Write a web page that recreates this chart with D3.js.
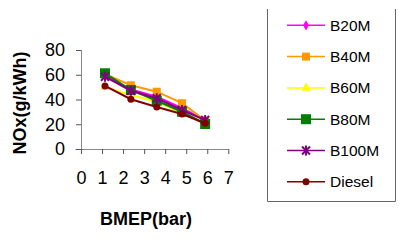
<!DOCTYPE html>
<html>
<head>
<meta charset="utf-8">
<script src="https://cdn.jsdelivr.net/npm/d3@7"></script>
<style>
  body { margin: 0; background: #fff; }
  svg { display: block; font-family: "Liberation Sans", Arial, sans-serif; }
</style>
</head>
<body>
<div id="chart"></div>
<script>
"use strict"

// BMEP (bar) at each load step
let bmep = [1.14, 2.37, 3.6, 4.8, 5.9];

let seriesNames = ["B20M", "B40M", "B60M", "B80M", "B100M", "Diesel"];
let seriesColors = ["#ff00ff", "#ff9900", "#ffff00", "#008000", "#800080", "#800000"];
let seriesMarkers = ["diamond", "square", "triangle", "bigSquare", "star", "circle"];

// NOx (g/kWh)
let b20m = [59, 48.2, 42.3, 33, 23.4];
let b40m = [60.5, 51.5, 46.3, 37, 22.9];
let b60m = [50, 43.6, 38.2, 29, 21.3];
let b80m = [61.2, 47.7, 39, 30.1, 20.2];
let b100m = [58.4, 47.1, 41, 31.5, 23.4];
let diesel = [51, 40.2, 33.9, 28.3, 20.8];
let seriesValues = [b20m, b40m, b60m, b80m, b100m, diesel];

let xTicks = [0, 1, 2, 3, 4, 5, 6, 7];
let yTicks = [0, 20, 40, 60, 80];

let svg = d3.select("#chart").append("svg")
    .attr("width", 404)
    .attr("height", 242);

let x = d3.scaleLinear().domain([0, 7]).range([81, 228.3]);
let y = d3.scaleLinear().domain([0, 80]).range([149, 50]);

// axes
let xAxis = svg.append("g")
    .attr("transform", "translate(0,149)")
    .call(d3.axisBottom(x).tickValues(xTicks).tickFormat(d3.format("d")).tickSize(5));
let yAxis = svg.append("g")
    .attr("transform", "translate(81,0)")
    .call(d3.axisLeft(y).tickValues(yTicks).tickFormat(d3.format("d")).tickSize(5));

[xAxis, yAxis].forEach(function(ax) {
    ax.select(".domain").attr("stroke", "#888").attr("stroke-width", 1);
    ax.selectAll(".tick line").attr("stroke", "#555").attr("stroke-width", 1);
    ax.selectAll(".tick text")
        .attr("fill", "#000")
        .style("font-size", "18px")
        .style("font-family", "'Liberation Sans', Arial, sans-serif");
});
xAxis.select(".domain").attr("d", "M75.5,0.5H228.8");
yAxis.select(".domain").attr("d", "M0.5,50H0.5V149");
xAxis.selectAll(".tick text").attr("dy", "0.71em").attr("y", 22);
yAxis.selectAll(".tick text").attr("x", -16);

// axis titles
svg.append("text")
    .attr("x", 146)
    .attr("y", 225)
    .attr("text-anchor", "middle")
    .style("font-size", "18px")
    .style("font-weight", "bold")
    .text("BMEP(bar)");

svg.append("text")
    .attr("transform", "translate(26,103) rotate(-90)")
    .attr("text-anchor", "middle")
    .style("font-size", "18px")
    .style("font-weight", "bold")
    .text("NOx(g/kWh)");

function drawMarker(g, type, color, cx, cy) {
    if (type === "diamond") {
        g.append("path")
            .attr("d", d3.symbol(d3.symbolDiamond, 30)())
            .attr("transform", "translate(" + cx + "," + cy + ")")
            .attr("fill", color);
    } else if (type === "square") {
        g.append("rect")
            .attr("x", cx - 4).attr("y", cy - 4)
            .attr("width", 8).attr("height", 8)
            .attr("fill", color);
    } else if (type === "bigSquare") {
        g.append("rect")
            .attr("x", cx - 5).attr("y", cy - 5)
            .attr("width", 10).attr("height", 10)
            .attr("fill", color);
    } else if (type === "triangle") {
        g.append("path")
            .attr("d", d3.symbol(d3.symbolTriangle, 40)())
            .attr("transform", "translate(" + cx + "," + cy + ")")
            .attr("fill", color);
    } else if (type === "star") {
        g.append("path")
            .attr("d", "M-4,-4L4,4M-4,4L4,-4M0,-5V5")
            .attr("transform", "translate(" + cx + "," + cy + ")")
            .attr("stroke", color)
            .attr("stroke-width", 2)
            .attr("fill", "none");
    } else {
        g.append("circle")
            .attr("cx", cx).attr("cy", cy).attr("r", 3.5)
            .attr("fill", color);
    }
}

let line = d3.line()
    .x(function(d) { return x(d[0]); })
    .y(function(d) { return y(d[1]); });

// series
seriesNames.forEach(function(name, i) {
    let pts = bmep.map(function(b, j) { return [b, seriesValues[i][j]]; });
    let g = svg.append("g");
    g.append("path")
        .attr("d", line(pts))
        .attr("stroke", seriesColors[i])
        .attr("stroke-width", 2)
        .attr("fill", "none");
    pts.forEach(function(p) {
        drawMarker(g, seriesMarkers[i], seriesColors[i], x(p[0]), y(p[1]));
    });
});

// legend
svg.append("path")
    .attr("d", "M267.5,9V201.5H395.5V9")
    .attr("stroke", "#666")
    .attr("stroke-width", 1)
    .attr("fill", "none");

seriesNames.forEach(function(name, i) {
    let ly = 25.3 + i * 31.3;
    let g = svg.append("g");
    g.append("line")
        .attr("x1", 287).attr("x2", 325)
        .attr("y1", ly).attr("y2", ly)
        .attr("stroke", seriesColors[i])
        .attr("stroke-width", 1.5);
    drawMarker(g, seriesMarkers[i], seriesColors[i], 306, ly);
    g.append("text")
        .attr("x", 330)
        .attr("y", ly + 5.5)
        .style("font-size", "15.5px")
        .text(name);
});
</script>
</body>
</html>
